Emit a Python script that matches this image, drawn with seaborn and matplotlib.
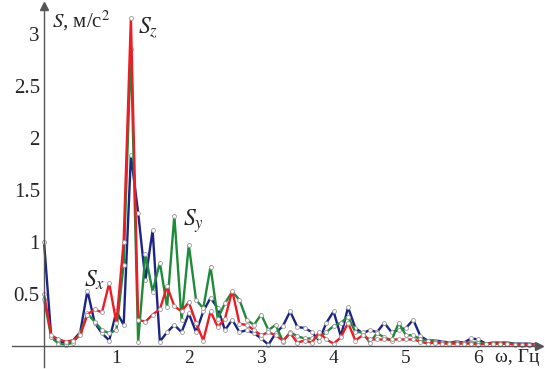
import matplotlib
matplotlib.use("Agg")
import matplotlib.pyplot as plt
import seaborn as sns
import pandas as pd

# frequency grid, Hz
freq = [0.0, 0.1, 0.2, 0.3, 0.4, 0.5, 0.6, 0.7, 0.8, 0.9,
        1.0, 1.1, 1.2, 1.3, 1.4, 1.5, 1.6, 1.7, 1.8, 1.9,
        2.0, 2.1, 2.2, 2.3, 2.4, 2.5, 2.6, 2.7, 2.8, 2.9,
        3.0, 3.1, 3.2, 3.3, 3.4, 3.5, 3.6, 3.7, 3.8, 3.9,
        4.0, 4.1, 4.2, 4.3, 4.4, 4.5, 4.6, 4.7, 4.8, 4.9,
        5.0, 5.1, 5.2, 5.3, 5.4, 5.5, 5.6, 5.7, 5.8, 5.9,
        6.0, 6.1, 6.2, 6.3, 6.4, 6.5, 6.6, 6.7, 6.8]

s_x = [1.00, 0.08, 0.04, 0.03, 0.05, 0.13, 0.53, 0.22, 0.12, 0.05,
       0.33, 0.20, 1.83, 1.28, 0.63, 1.11, 0.04, 0.13, 0.20, 0.13,
       0.31, 0.13, 0.33, 0.46, 0.36, 0.15, 0.25, 0.13, 0.15, 0.12,
       0.07, 0.01, 0.12, 0.19, 0.33, 0.18, 0.17, 0.13, 0.05, 0.22,
       0.33, 0.09, 0.37, 0.17, 0.12, 0.15, 0.13, 0.22, 0.13, 0.15,
       0.17, 0.25, 0.09, 0.05, 0.05, 0.04, 0.03, 0.04, 0.03, 0.07,
       0.06, 0.02, 0.03, 0.03, 0.03, 0.02, 0.02, 0.02, 0.01]

s_y = [0.45, 0.08, 0.02, 0.01, 0.03, 0.12, 0.31, 0.23, 0.15, 0.12,
       0.15, 0.78, 2.85, 0.04, 0.88, 0.52, 0.80, 0.37, 1.25, 0.25,
       0.97, 0.44, 0.36, 0.76, 0.26, 0.41, 0.52, 0.44, 0.25, 0.20,
       0.30, 0.15, 0.20, 0.04, 0.13, 0.09, 0.07, 0.07, 0.08, 0.13,
       0.19, 0.22, 0.28, 0.13, 0.13, 0.03, 0.12, 0.08, 0.05, 0.22,
       0.10, 0.10, 0.06, 0.05, 0.04, 0.03, 0.03, 0.03, 0.03, 0.03,
       0.03, 0.02, 0.02, 0.02, 0.02, 0.02, 0.01, 0.01, 0.01]

s_z = [0.50, 0.10, 0.06, 0.04, 0.05, 0.10, 0.30, 0.35, 0.32, 0.60,
       0.22, 1.00, 3.15, 0.25, 0.23, 0.30, 0.35, 0.57, 0.38, 0.33,
       0.42, 0.22, 0.05, 0.33, 0.18, 0.26, 0.53, 0.21, 0.20, 0.15,
       0.10, 0.13, 0.10, 0.05, 0.12, 0.03, 0.05, 0.03, 0.13, 0.06,
       0.02, 0.08, 0.22, 0.05, 0.10, 0.06, 0.06, 0.06, 0.06, 0.06,
       0.06, 0.06, 0.04, 0.02, 0.03, 0.02, 0.02, 0.02, 0.02, 0.02,
       0.01, 0.02, 0.02, 0.02, 0.02, 0.01, 0.01, 0.01, 0.01]

x_ticks = [1, 2, 3, 4, 5, 6]
y_ticks = [0.5, 1, 1.5, 2, 2.5, 3]
y_tick_labels = ["0.5", "1", "1.5", "2", "2.5", "3"]

series = {"Sx": s_x, "Sy": s_y, "Sz": s_z}
colors = {"Sx": "#1c2585", "Sy": "#1f8a3a", "Sz": "#ee1c25"}

df = pd.DataFrame({"freq": freq, **series}).melt("freq", var_name="comp", value_name="S")

sns.set_style("white")
plt.rcParams["font.family"] = ["Liberation Serif", "DejaVu Serif"]
plt.rcParams["mathtext.fontset"] = "stix"

fig = plt.figure(figsize=(5.45, 3.69), dpi=100)
ax = fig.add_axes([0, 0, 1, 1])

for comp in ["Sx", "Sy", "Sz"]:
    sns.lineplot(data=df[df.comp == comp], x="freq", y="S", color=colors[comp],
                 lw=1.7, marker="o", markersize=2.8, markerfacecolor="white",
                 markeredgecolor="#999999", markeredgewidth=0.6, ax=ax,
                 legend=False)

ax.set_xlim(-0.608, 6.92)
ax.set_ylim(-0.224, 3.324)
ax.set_xlabel("")
ax.set_ylabel("")

for side in ["top", "right"]:
    ax.spines[side].set_visible(False)
ax.spines["left"].set_position(("data", 0))
ax.spines["bottom"].set_position(("data", 0))
ax.spines["left"].set_bounds(-0.2, 3.26)
ax.spines["bottom"].set_bounds(-0.44, 6.82)
for side in ["left", "bottom"]:
    ax.spines[side].set_color("#555555")
    ax.spines[side].set_linewidth(1.0)

# arrow heads
ax.plot([6.84], [0], marker=">", ms=6, color="#555555", clip_on=False)
ax.plot([0], [3.27], marker="^", ms=6, color="#555555", clip_on=False)

ax.set_xticks(x_ticks)
ax.set_xticklabels([str(t) for t in x_ticks], fontsize=14)
ax.set_yticks(y_ticks)
ax.set_yticklabels(y_tick_labels, fontsize=15)
ax.tick_params(axis="x", direction="out", length=3, color="#555555", pad=0)
ax.tick_params(axis="y", direction="in", length=4, color="#555555", pad=3)

ax.text(0.11, 3.12, r"$S$, м/с$^2$", fontsize=15, ha="left", va="center")
ax.text(1.3, 3.05, r"$S_z$", fontsize=17, ha="left", va="center")
ax.text(1.92, 1.2, r"$S_y$", fontsize=17, ha="left", va="center")
ax.text(0.55, 0.63, r"$S_x$", fontsize=17, ha="left", va="center")
ax.text(6.23, -0.11, "ω, Гц", fontsize=14, ha="left", va="center")

fig.savefig("out.png", dpi=100)
